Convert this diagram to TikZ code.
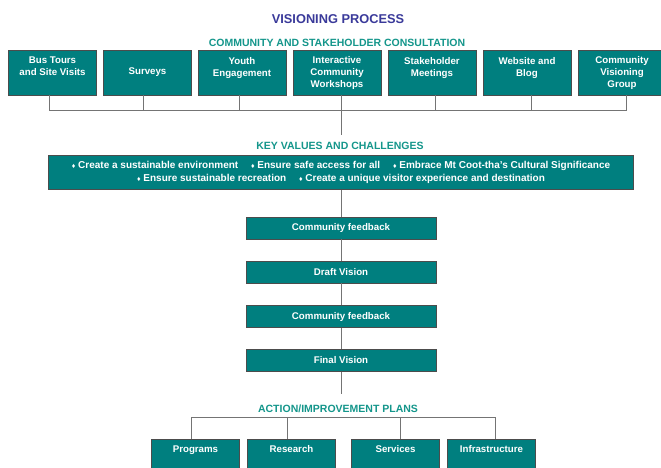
\documentclass[tikz,border=0pt]{standalone}
\usepackage{fontspec}
\setmainfont{Liberation Sans}
\usepackage{tikz}
\usetikzlibrary{positioning}
\definecolor{boxteal}{HTML}{007F7F}
\definecolor{headteal}{HTML}{14968B}
\definecolor{titleblue}{HTML}{3A3A9A}
\definecolor{linegray}{HTML}{747474}
\newcommand{\dia}{{\fontsize{7}{7}\selectfont ♦}}

\begin{document}
\begin{tikzpicture}[x=1pt,y=-1pt,
  tealbox/.style={rectangle, fill=boxteal, draw=black!70, line width=0.6pt, text=white,
    font=\bfseries\fontsize{9.7}{12}\selectfont, align=center, inner sep=2pt},
  topbox/.style={tealbox, minimum width=88pt, minimum height=45pt},
  midbox/.style={tealbox, minimum width=190pt, minimum height=22pt},
  lowbox/.style={tealbox, minimum width=88pt, text height=10pt, text depth=24pt, inner ysep=3pt, anchor=north},
  heading/.style={text=headteal, font=\bfseries\fontsize{10.5}{12}\selectfont},
  link/.style={draw=linegray, line width=1pt}]
\clip (0,0) rectangle (661,468);
\fill[white] (0,0) rectangle (661,468);
%
\node[text=titleblue, font=\bfseries\fontsize{12.8}{14}\selectfont] (title) at (338,19) {VISIONING PROCESS};
\node[heading] (consult) at (337,43) {COMMUNITY AND STAKEHOLDER CONSULTATION};
%
\node[topbox] (tours) at (52.5,72.5) {Bus Tours\\and Site Visits\\\mbox{}};
\node[topbox] (surveys) at (147.5,72.5) {Surveys};
\node[topbox] (youth) at (242,72.5) {Youth\\Engagement\\\mbox{}};
\node[topbox] (workshops) at (337,72.5) {Interactive\\Community\\Workshops};
\node[topbox] (meetings) at (432,72.5) {Stakeholder\\Meetings\\\mbox{}};
\node[topbox] (website) at (527,72.5) {Website and\\Blog\\\mbox{}};
\node[topbox] (group) at (622,72.5) {Community\\Visioning\\Group};
\coordinate (busline) at (341,111);
\coordinate (stemtop) at (341,135);
%
\draw[link] ([xshift=-3.5pt]tours.south) -- ([xshift=-3.5pt]tours.south |- busline) -- ([xshift=4pt]group.south |- busline) -- ([xshift=4pt]group.south);
\draw[link] ([xshift=-4pt]surveys.south) -- ([xshift=-4pt]surveys.south |- busline);
\draw[link] ([xshift=-3pt]youth.south) -- ([xshift=-3pt]youth.south |- busline);
\draw[link] (busline |- workshops.south) -- (stemtop);
\draw[link] ([xshift=3pt]meetings.south) -- ([xshift=3pt]meetings.south |- busline);
\draw[link] ([xshift=4pt]website.south) -- ([xshift=4pt]website.south |- busline);
%
\node[heading] (valhead) at (340,146) {KEY VALUES AND CHALLENGES};
\node[tealbox, minimum width=585pt, minimum height=34pt, font=\bfseries\fontsize{10}{13}\selectfont] (values) at (341,172.5)
  {\dia\ Create a sustainable environment\quad\ \dia\ Ensure safe access for all\quad\ \dia\ Embrace Mt Coot-tha’s Cultural Significance\\
   \dia\ Ensure sustainable recreation\quad\ \dia\ Create a unique visitor experience and destination};
%
\node[midbox] (fbone) at (341,228) {Community feedback};
\node[midbox] (draft) at (341,272) {Draft Vision};
\node[midbox] (fbtwo) at (341,316.5) {Community feedback};
\node[midbox] (final) at (341,360.5) {Final Vision};
\coordinate (stemend) at (341,394);
\draw[link] (values.south) -- (fbone.north);
\draw[link] (fbone.south) -- (draft.north);
\draw[link] (draft.south) -- (fbtwo.north);
\draw[link] (fbtwo.south) -- (final.north);
\draw[link] (final.south) -- (stemend);
%
\node[heading] (acthead) at (338,409) {ACTION/IMPROVEMENT PLANS};
\node[lowbox] (programs) at (195.5,439) {Programs};
\node[lowbox] (research) at (291.5,439) {Research};
\node[lowbox] (services) at (395.5,439) {Services};
\node[lowbox] (infra) at (491.5,439) {Infrastructure};
\coordinate (actbar) at (341,417);
\draw[link] ([xshift=-4pt]programs.north) -- ([xshift=-4pt]programs.north |- actbar) -- ([xshift=4pt]infra.north |- actbar) -- ([xshift=4pt]infra.north);
\draw[link] ([xshift=-4pt]research.north) -- ([xshift=-4pt]research.north |- actbar);
\draw[link] ([xshift=4.5pt]services.north) -- ([xshift=4.5pt]services.north |- actbar);
\end{tikzpicture}
\end{document}
